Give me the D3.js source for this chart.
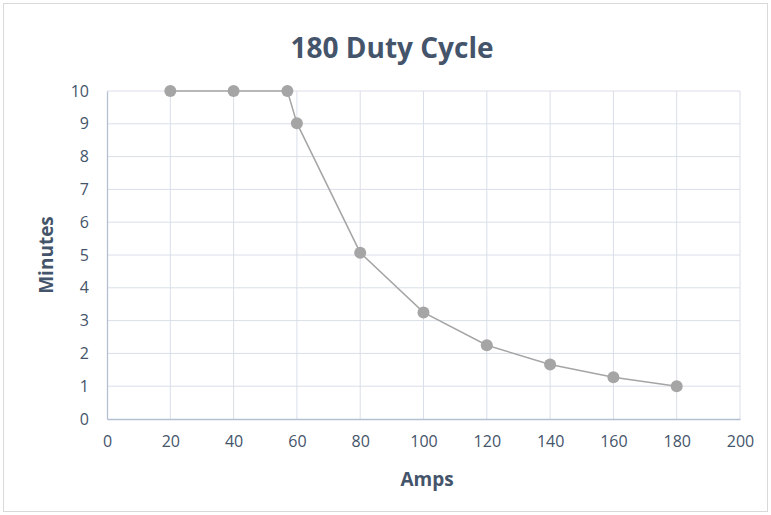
<!DOCTYPE html>
<html>
<head>
<meta charset="utf-8">
<script src="https://cdn.jsdelivr.net/npm/d3@7"></script>
<style>
  body { margin: 0; background: #fff; }
  text { font-family: "Open Sans", "Liberation Sans", sans-serif; }
</style>
</head>
<body>
<div id="main"></div>
<script>
// amps vs minutes
var amps = [20, 40, 57, 60, 80, 100, 120, 140, 160, 180];
var minutes = [10, 10, 10, 9.02, 5.07, 3.25, 2.25, 1.66, 1.27, 1.0];
var xTicks = [0, 20, 40, 60, 80, 100, 120, 140, 160, 180, 200];
var yTicks = [0, 1, 2, 3, 4, 5, 6, 7, 8, 9, 10];

var W = 771, H = 515;
var m = { left: 107, right: 31, top: 91, bottom: 96 };
var textCol = "#44546A";

var svg = d3.select("#main").append("svg")
  .attr("width", W).attr("height", H);

svg.append("rect")
  .attr("x", 3.5).attr("y", 3.5)
  .attr("width", W - 7).attr("height", H - 7)
  .attr("fill", "#fff").attr("stroke", "#D9D9D9");

var x = d3.scaleLinear().domain([0, 200]).range([m.left, W - m.right]);
var y = d3.scaleLinear().domain([0, 10]).range([H - m.bottom, m.top]);

// grid
svg.append("g").selectAll("line").data(xTicks.slice(1)).join("line")
  .attr("x1", d => x(d)).attr("x2", d => x(d))
  .attr("y1", y(0)).attr("y2", y(10))
  .attr("stroke", "#D9DEE8").attr("stroke-width", 1);
svg.append("g").selectAll("line").data(yTicks.slice(1)).join("line")
  .attr("x1", x(0)).attr("x2", x(200))
  .attr("y1", d => y(d)).attr("y2", d => y(d))
  .attr("stroke", "#D9DEE8").attr("stroke-width", 1);

// axes
var xAxis = svg.append("g")
  .attr("transform", "translate(0," + y(0) + ")")
  .call(d3.axisBottom(x).tickValues(xTicks).tickSize(0).tickPadding(17));
var yAxis = svg.append("g")
  .attr("transform", "translate(" + x(0) + ",0)")
  .call(d3.axisLeft(y).tickValues(yTicks).tickSize(0).tickPadding(18));
[xAxis, yAxis].forEach(function(g) {
  g.attr("font-size", null).attr("font-family", null);
  g.select(".domain").attr("stroke", "#B4C0D2").attr("stroke-width", 1.3);
  g.selectAll("text").attr("fill", textCol).style("font-size", "16px");
});

// line + markers
var line = d3.line().x((d, i) => x(amps[i])).y(d => y(d));
svg.append("path").datum(minutes)
  .attr("d", line)
  .attr("fill", "none").attr("stroke", "#A5A5A5").attr("stroke-width", 1.5);
svg.append("g").selectAll("circle").data(minutes).join("circle")
  .attr("cx", (d, i) => x(amps[i])).attr("cy", d => y(d))
  .attr("r", 6).attr("fill", "#A5A5A5");

// titles
svg.append("text").attr("x", 392).attr("y", 58)
  .attr("text-anchor", "middle").style("font-size", "28px").attr("font-weight", "bold")
  .attr("fill", textCol).text("180 Duty Cycle");
svg.append("text").attr("x", 427).attr("y", 486)
  .attr("text-anchor", "middle").style("font-size", "19px").attr("font-weight", "bold")
  .attr("fill", textCol).text("Amps");
svg.append("text")
  .attr("transform", "translate(53," + ((y(0) + y(10)) / 2) + ") rotate(-90)")
  .attr("text-anchor", "middle").style("font-size", "19px").attr("font-weight", "bold")
  .attr("fill", textCol).text("Minutes");
</script>
</body>
</html>
